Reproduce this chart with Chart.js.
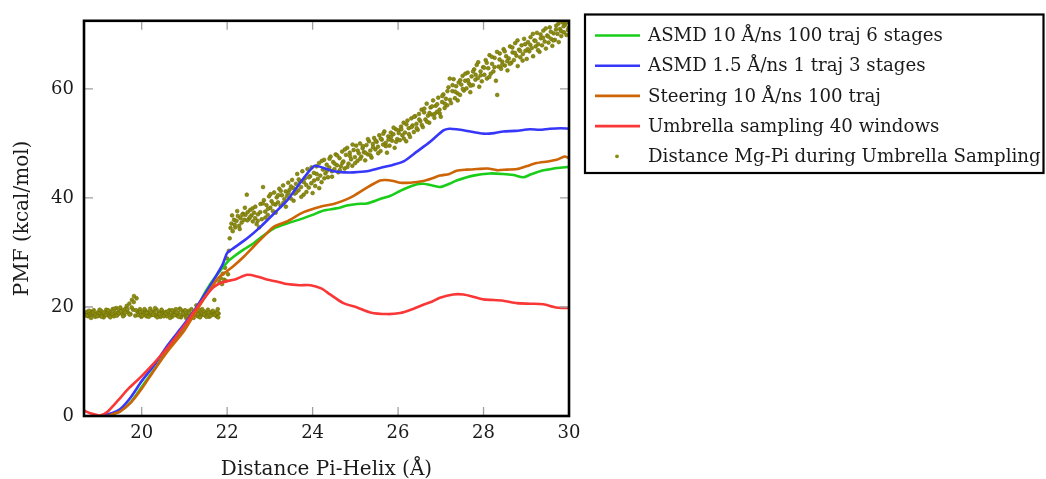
<!DOCTYPE html>
<html><head><meta charset="utf-8">
<script src="https://cdn.jsdelivr.net/npm/chart.js@4"></script>
<style>html,body{margin:0;padding:0;background:#fff}#wrap{width:1046px;height:479px;position:relative}</style>
</head><body><div id="wrap"><canvas id="c" width="1046" height="479"></canvas></div>
<script>
// ---------- DATA ----------
const seriesNames = [
  "ASMD 10 \u00C5/ns 100 traj 6 stages",
  "ASMD 1.5 \u00C5/ns 1 traj 3 stages",
  "Steering 10 \u00C5/ns 100 traj",
  "Umbrella sampling 40 windows",
  "Distance Mg-Pi during Umbrella Sampling"
];
const xTitle = "Distance Pi-Helix (\u00C5)";
const yTitle = "PMF (kcal/mol)";
const xTicks = [20, 22, 24, 26, 28, 30];
const yTicks = [0, 20, 40, 60];

const asmd10X = [19.1,19.3,19.5,19.75,20.0,20.3,20.6,21.0,21.25,21.5,21.75,22.0,22.15,22.4,22.62,22.85,23.09,23.4,23.79,24.0,24.26,24.57,24.8,25.04,25.27,25.58,25.82,26.13,26.44,26.59,26.8,26.98,27.2,27.37,27.76,28.15,28.46,28.7,28.93,29.1,29.32,29.5,29.71,30.0];
const asmd10Y = [0,0.3,0.9,2.6,5.3,8.6,12.0,16.0,19.2,22.9,25.8,28.2,29.2,30.6,31.7,33.1,34.4,35.3,36.3,36.9,37.7,38.1,38.6,38.9,39.0,39.8,40.4,41.6,42.5,42.6,42.3,42.0,42.6,43.2,44.1,44.5,44.4,44.2,43.8,44.3,44.9,45.2,45.5,45.7];

const asmd15X = [19.05,19.3,19.5,19.75,20.0,20.3,20.6,21.0,21.25,21.5,21.75,21.9,22.0,22.15,22.47,22.78,23.09,23.4,23.71,23.95,24.06,24.26,24.49,24.75,24.96,25.27,25.58,25.89,26.13,26.44,26.75,27.06,27.2,27.37,27.69,28.0,28.25,28.46,28.75,29.09,29.3,29.55,29.8,30.0];
const asmd15Y = [0,0.5,1.3,3.5,6.4,9.4,12.9,16.9,19.6,22.6,25.8,27.9,29.9,30.8,32.6,34.7,37.1,39.5,42.8,45.2,45.9,45.5,44.9,44.7,44.7,44.9,45.5,46.1,46.7,48.5,50.3,52.4,52.7,52.6,52.2,51.8,51.9,52.2,52.3,52.6,52.5,52.7,52.8,52.7];

const steerX = [19.2,19.35,19.5,19.75,20.0,20.3,20.6,21.0,21.25,21.5,21.75,21.84,22.0,22.15,22.4,22.62,22.85,23.09,23.4,23.79,24.18,24.49,24.75,24.96,25.27,25.45,25.58,25.7,25.89,26.05,26.28,26.59,26.8,26.98,27.2,27.37,27.6,27.84,28.1,28.31,28.55,28.78,29.0,29.24,29.5,29.71,29.9,30.0];
const steerY = [0,0.4,0.85,2.5,5.0,8.5,11.8,15.7,18.9,22.0,24.9,25.7,26.6,27.5,29.3,31.1,32.9,34.7,35.7,37.4,38.4,38.9,39.6,40.4,41.9,42.7,43.2,43.3,43.1,42.8,42.8,43.1,43.6,44.1,44.4,45.0,45.2,45.3,45.4,45.1,45.2,45.3,45.8,46.4,46.7,47.0,47.6,47.3];

const umbX = [18.65,18.8,19.02,19.2,19.44,19.7,19.97,20.3,20.61,21.0,21.24,21.5,21.68,21.84,22.0,22.2,22.47,22.7,22.93,23.2,23.4,23.7,23.95,24.2,24.41,24.72,25.04,25.35,25.74,26.05,26.3,26.59,26.8,26.98,27.29,27.53,27.8,28.0,28.46,28.78,29.1,29.4,29.71,30.0];
const umbY = [1.0,0.5,0.1,0.8,2.8,5.1,7.1,9.8,12.6,16.6,19.3,22.0,23.6,24.4,24.75,25.1,25.9,25.6,25.05,24.6,24.2,24.0,24.0,23.4,22.3,20.7,19.9,19.0,18.7,18.9,19.5,20.4,21.0,21.7,22.3,22.3,21.8,21.4,21.15,20.7,20.6,20.5,19.9,19.8];

const mgPiX = [18.70,18.72,18.75,18.78,18.80,18.83,18.86,18.88,18.91,18.94,18.97,19.00,19.02,19.05,19.08,19.11,19.14,19.17,19.20,19.23,19.26,19.29,19.32,19.35,19.38,19.41,19.44,19.47,19.50,19.53,19.56,19.59,19.62,19.65,19.68,19.71,19.74,19.77,19.80,19.82,19.85,19.88,19.90,19.93,19.96,19.99,20.02,20.05,20.08,20.11,20.14,20.17,20.20,20.23,20.26,20.29,20.32,20.35,20.38,20.41,20.44,20.47,20.50,20.53,20.56,20.59,20.62,20.65,20.68,20.71,20.74,20.77,20.80,20.83,20.86,20.89,20.92,20.95,20.98,21.01,21.04,21.07,21.10,21.13,21.16,21.19,21.22,21.25,21.28,21.31,21.34,21.37,21.40,21.43,21.46,21.49,21.52,21.55,21.58,21.61,21.64,21.67,21.70,21.72,21.75,21.78,21.80,
18.715,18.765,18.815,18.865,18.915,18.965,19.015,19.065,19.115,19.165,19.215,19.265,19.315,19.365,19.415,19.465,19.515,19.565,19.615,19.665,19.715,19.765,19.815,19.865,19.915,19.965,20.015,20.065,20.115,20.165,20.215,20.265,20.315,20.365,20.415,20.465,20.515,20.565,20.615,20.665,20.715,20.765,20.815,20.865,20.915,20.965,21.015,21.065,21.115,21.165,21.215,21.265,21.315,21.365,21.415,21.465,21.515,21.565,21.615,21.665,21.715,21.765,21.79,
21.82,21.85,21.88,21.90,21.93,21.95,21.97,22.00,22.02,22.04,22.06,22.08,
22.10,22.13,22.16,22.19,22.22,22.25,22.28,22.31,22.34,22.37,22.40,22.43,22.46,22.48,22.51,22.54,22.57,22.60,22.63,22.66,22.69,22.72,22.75,22.78,22.81,22.84,22.86,22.89,22.92,22.95,22.98,23.01,23.04,23.07,23.10,23.13,23.16,23.19,23.22,23.25,23.28,23.31,23.34,23.37,23.40,23.43,23.46,23.49,23.52,23.55,23.58,23.61,23.64,23.67,23.70,23.73,23.76,23.79,23.82,23.85,23.88,23.91,23.94,23.97,24.00,
22.115,22.175,22.235,22.295,22.355,22.415,22.475,22.535,22.595,22.655,22.715,22.775,22.835,22.895,22.955,23.015,23.075,23.135,23.195,23.255,23.315,23.375,23.435,23.495,23.555,23.615,23.675,23.735,23.795,23.855,23.915,23.975,
24.03,24.06,24.09,24.12,24.15,24.18,24.21,24.24,24.27,24.30,24.33,24.36,24.39,24.42,24.45,24.48,24.51,24.54,24.57,24.60,24.63,24.66,24.69,24.72,24.75,24.78,24.81,24.84,24.87,24.90,24.93,24.96,24.99,25.02,25.05,25.08,25.11,25.14,25.17,25.20,25.23,25.26,25.29,25.32,25.35,25.38,25.41,25.44,25.47,25.50,25.53,25.56,25.59,25.62,25.65,25.68,25.71,25.74,25.77,25.80,25.83,25.86,25.89,25.92,25.95,25.98,
24.035,24.095,24.155,24.215,24.275,24.335,24.395,24.455,24.515,24.575,24.635,24.695,24.755,24.815,24.875,24.935,24.995,25.055,25.115,25.175,25.235,25.295,25.355,25.415,25.475,25.535,25.595,25.655,25.715,25.775,25.835,25.895,25.955,
26.01,26.04,26.07,26.10,26.13,26.16,26.19,26.22,26.25,26.28,26.31,26.34,26.37,26.40,26.43,26.46,26.49,26.52,26.55,26.58,26.61,26.64,26.67,26.70,26.73,26.76,26.79,26.82,26.85,26.88,26.91,26.94,26.97,27.00,27.03,27.06,27.09,27.12,27.15,27.18,27.21,27.24,27.27,27.30,27.33,27.36,27.39,27.42,27.45,27.48,27.51,27.54,27.57,27.60,27.63,27.66,27.69,27.72,27.75,27.78,27.81,27.84,27.87,27.90,27.93,27.96,27.99,
26.015,26.075,26.135,26.195,26.255,26.315,26.375,26.435,26.495,26.555,26.615,26.675,26.735,26.795,26.855,26.915,26.975,27.035,27.095,27.155,27.215,27.275,27.335,27.395,27.455,27.515,27.575,27.635,27.695,27.755,27.815,27.875,27.935,
28.02,28.05,28.08,28.11,28.14,28.17,28.20,28.23,28.26,28.29,28.32,28.35,28.38,28.41,28.44,28.47,28.50,28.53,28.56,28.59,28.62,28.65,28.68,28.71,28.74,28.77,28.80,28.83,28.86,28.89,28.92,28.95,28.98,29.01,29.04,29.07,29.10,29.13,29.16,29.19,29.22,29.25,29.28,29.31,29.34,29.37,29.40,29.43,29.46,29.49,29.52,29.55,29.58,29.61,29.64,29.67,29.70,29.73,29.76,29.79,29.82,29.85,29.88,29.91,29.94,29.97,29.99,
28.015,28.075,28.135,28.195,28.255,28.315,28.375,28.435,28.495,28.555,28.615,28.675,28.735,28.795,28.855,28.915,28.975,29.035,29.095,29.155,29.215,29.275,29.335,29.395,29.455,29.515,29.575,29.635,29.695,29.755,29.815,29.875,29.935,29.975];
const mgPiY = [18.6,19.1,18.3,18.9,19.2,18.5,18.8,19.4,18.2,18.7,19.0,18.4,18.9,19.3,18.6,18.1,18.8,19.5,18.9,18.4,19.1,18.7,19.6,18.3,19.0,19.8,18.6,19.3,19.9,18.8,19.4,18.5,19.7,20.2,19.0,20.6,18.7,21.3,19.5,22.0,18.4,21.6,19.2,18.9,19.6,18.2,19.0,18.6,19.4,18.3,19.1,18.8,19.7,18.5,19.2,18.9,18.4,19.5,18.7,19.0,18.2,19.3,18.8,18.5,19.1,18.3,18.9,19.4,18.6,18.2,19.0,18.7,19.6,18.4,18.9,19.7,18.1,18.6,19.2,18.5,18.0,18.8,19.3,18.4,18.7,18.2,19.0,18.6,20.3,18.3,18.9,19.4,18.5,18.8,19.2,18.4,18.9,19.5,18.2,18.7,19.1,18.6,21.3,19.0,18.3,19.6,18.8,
18.4,19.3,18.0,19.0,18.6,18.3,19.5,18.2,19.0,18.5,19.4,18.1,18.8,19.7,18.4,18.9,19.2,18.3,19.0,19.6,18.6,19.9,20.9,19.4,18.5,19.1,18.4,19.6,18.9,18.2,19.0,18.6,19.8,18.1,18.7,19.5,18.3,18.8,19.2,18.0,19.4,18.5,19.0,18.2,19.5,18.8,19.4,18.3,18.9,19.6,18.0,19.2,18.7,18.1,19.6,18.6,18.2,19.0,18.4,19.3,18.6,18.9,18.1,
24.6,25.3,24.2,26.1,25.0,27.2,24.8,28.9,26.0,30.3,32.6,34.5,
35.3,33.9,36.0,34.6,35.8,36.7,34.9,36.3,35.5,37.1,36.0,36.9,40.6,37.4,36.2,37.8,36.8,35.7,37.3,38.4,35.2,37.0,34.6,38.9,36.1,42.0,39.6,37.5,38.7,36.9,40.3,38.2,39.4,37.6,41.0,38.8,40.1,39.2,41.7,38.6,40.5,42.3,39.8,41.2,40.4,42.8,41.5,39.9,43.3,41.8,40.8,42.6,44.4,41.4,43.1,42.0,44.9,40.6,43.6,42.4,45.3,41.9,44.0,42.7,40.9,
36.8,35.1,37.6,34.3,36.9,38.2,35.9,36.5,38.1,36.3,35.8,37.4,39.0,36.4,38.0,40.7,38.9,37.3,40.5,41.3,39.1,38.4,40.9,42.1,39.5,41.0,43.4,40.2,42.9,41.1,43.8,45.6,
44.6,42.2,45.8,43.5,46.4,44.1,42.9,45.2,47.0,44.5,46.1,43.8,45.6,47.6,44.9,46.6,45.3,48.0,46.0,44.7,47.3,45.8,48.5,46.7,45.4,47.9,49.2,46.3,48.3,47.1,45.9,48.8,47.5,49.6,46.8,48.2,50.0,47.6,49.1,48.4,46.9,49.7,48.0,50.4,48.7,47.4,49.9,51.0,48.9,50.3,49.4,51.5,48.6,50.7,49.8,52.2,50.1,48.3,51.3,49.6,52.0,50.5,51.7,49.2,52.6,50.8,
43.2,44.4,41.8,46.8,43.6,45.0,47.2,43.9,46.3,47.8,45.1,46.4,48.9,45.7,47.7,49.8,46.4,48.7,47.2,49.5,48.3,50.8,47.8,49.3,50.5,48.2,50.9,51.8,49.5,50.7,51.2,52.9,50.3,
52.4,50.6,53.1,51.5,53.8,52.0,50.4,54.2,52.8,51.2,54.6,53.3,52.1,55.0,53.6,52.5,55.4,54.1,56.2,53.0,55.7,54.4,57.3,55.1,53.8,56.6,55.3,57.9,54.7,56.9,55.8,58.4,56.2,54.9,57.6,59.0,56.5,58.2,57.0,60.3,61.9,57.4,59.6,61.8,58.3,60.5,59.2,61.2,58.9,60.8,62.4,59.7,61.5,60.1,63.0,61.0,59.4,62.3,60.7,63.6,61.7,64.4,62.0,60.4,63.2,61.4,64.0,
51.9,52.6,50.9,53.5,51.7,53.0,54.9,52.8,54.4,53.4,56.4,54.0,55.6,56.8,55.4,57.2,55.5,58.7,57.3,59.6,58.0,60.7,59.5,57.9,61.6,60.0,62.8,61.6,60.6,63.2,62.6,64.9,62.5,
62.6,65.3,61.9,63.8,66.2,62.8,64.6,63.2,65.7,61.5,58.9,64.1,66.5,63.7,65.0,67.3,64.3,66.0,63.4,65.6,67.8,64.8,66.7,65.3,68.4,66.1,64.2,67.2,65.8,68.0,66.4,69.2,67.0,65.5,68.6,66.9,69.5,67.5,66.0,68.9,67.8,70.3,68.2,66.8,69.3,68.0,70.7,68.7,67.4,69.8,68.5,71.3,69.2,67.9,70.2,69.0,71.6,70.1,68.6,71.0,69.7,72.2,70.4,71.8,69.9,72.4,71.2,
63.9,64.8,62.2,65.9,64.0,66.8,65.4,64.4,66.9,65.1,64.6,67.6,66.6,68.9,67.0,65.2,68.2,67.3,68.1,70.1,68.8,67.1,70.0,69.4,71.1,69.6,70.5,68.9,70.9,72.0,70.6,71.5,72.3,70.8];

// ---------- STYLE ----------
const FONT = '"DejaVu Serif", serif';
const FS = 18;
const LFS = 18.2;
const TFS = 20;
const TXT = '#1a1a1a';
const colors = ['rgb(25,205,25)', 'rgb(55,55,250)', 'rgb(205,100,5)', 'rgb(250,55,55)', 'rgb(128,128,0)'];

function pts(xs, ys) { return xs.map((x, i) => ({x: x, y: ys[i]})); }
function lineDs(i, xs, ys, order) {
  return {label: seriesNames[i], data: pts(xs, ys), showLine: true, borderColor: colors[i],
    backgroundColor: colors[i], borderWidth: 2.6, pointRadius: 0, tension: 0.25, order: order};
}

const datasets = [
  lineDs(0, asmd10X, asmd10Y, 4),
  lineDs(1, asmd15X, asmd15Y, 3),
  lineDs(2, steerX, steerY, 2),
  lineDs(3, umbX, umbY, 1),
  {label: seriesNames[4], data: pts(mgPiX, mgPiY), showLine: false, pointRadius: 1.9,
   pointBackgroundColor: 'rgb(140,140,20)', pointBorderColor: 'rgb(110,110,0)', pointBorderWidth: 0.6, order: 5}
];

const framePlugin = {
  id: 'frame',
  afterDatasetsDraw(chart) {
    const {ctx, chartArea: a, scales} = chart;
    ctx.save();
    ctx.strokeStyle = '#a0a0a0';
    ctx.lineWidth = 1.3;
    const TL = 9;
    xTicks.forEach(v => {
      const px = scales.x.getPixelForValue(v);
      ctx.beginPath();
      ctx.moveTo(px, a.bottom); ctx.lineTo(px, a.bottom - TL);
      ctx.moveTo(px, a.top); ctx.lineTo(px, a.top + TL);
      ctx.stroke();
    });
    yTicks.forEach(v => {
      const py = scales.y.getPixelForValue(v);
      ctx.beginPath();
      ctx.moveTo(a.left, py); ctx.lineTo(a.left + TL, py);
      ctx.moveTo(a.right, py); ctx.lineTo(a.right - TL, py);
      ctx.stroke();
    });
    ctx.strokeStyle = '#000';
    ctx.lineWidth = 2.6;
    ctx.strokeRect(a.left, a.top, a.right - a.left, a.bottom - a.top);
    ctx.restore();
  }
};

const legendPlugin = {
  id: 'boxLegend',
  afterDraw(chart) {
    const ctx = chart.ctx;
    ctx.save();
    ctx.strokeStyle = '#000';
    ctx.lineWidth = 2.2;
    ctx.strokeRect(585, 14.5, 458.5, 158.5);
    ctx.font = LFS + 'px ' + FONT;
    ctx.textBaseline = 'middle';
    ctx.fillStyle = TXT;
    seriesNames.forEach((name, i) => {
      const y = 35.5 + i * 30.2;
      if (i < 4) {
        ctx.strokeStyle = colors[i];
        ctx.lineWidth = 2.6;
        ctx.beginPath(); ctx.moveTo(595, y); ctx.lineTo(640, y); ctx.stroke();
      } else {
        ctx.beginPath(); ctx.arc(617, y, 1.9, 0, Math.PI * 2);
        ctx.fillStyle = 'rgb(140,140,20)'; ctx.fill();
        ctx.fillStyle = TXT;
      }
      ctx.fillText(name, 648, y + 1);
    });
    ctx.restore();
  }
};

new Chart(document.getElementById('c'), {
  type: 'scatter',
  data: {datasets: datasets},
  options: {
    responsive: false,
    animation: false,
    layout: {padding: {left: 0, right: 477, top: 13, bottom: 0}},
    plugins: {legend: {display: false}, tooltip: {enabled: false}},
    scales: {
      x: {
        type: 'linear', min: 18.65, max: 30,
        afterBuildTicks: s => { s.ticks = xTicks.map(v => ({value: v})); },
        afterFit: s => { s.height = 63; },
        grid: {display: false, drawTicks: false},
        border: {display: false},
        ticks: {font: {family: FONT, size: FS}, color: TXT, padding: 7, maxRotation: 0, autoSkip: false},
        title: {display: true, text: xTitle, font: {family: FONT, size: TFS, lineHeight: 0.9}, color: TXT, padding: {top: 0, bottom: 0}}
      },
      y: {
        type: 'linear', min: 0, max: 72.5,
        afterBuildTicks: s => { s.ticks = yTicks.map(v => ({value: v})); },
        afterFit: s => { s.width = 84; },
        grid: {display: false, drawTicks: false},
        border: {display: false},
        ticks: {font: {family: FONT, size: FS}, color: TXT, padding: 10, autoSkip: false},
        title: {display: true, text: yTitle, font: {family: FONT, size: TFS, lineHeight: 0.9}, color: TXT, padding: {top: 13.5, bottom: 0}}
      }
    }
  },
  plugins: [framePlugin, legendPlugin]
});
</script></body></html>
